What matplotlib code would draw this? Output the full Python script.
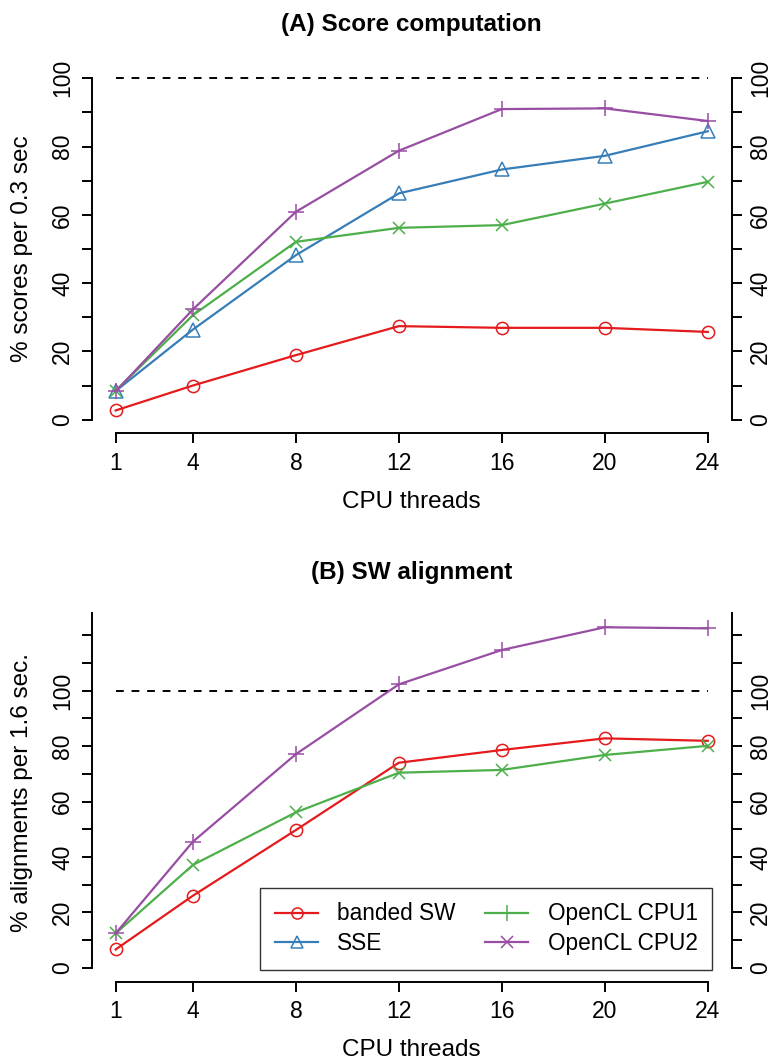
import matplotlib
matplotlib.use('Agg')
import matplotlib.pyplot as plt
from matplotlib.lines import Line2D

plt.rcParams['font.family'] = ['Liberation Sans', 'DejaVu Sans']

# CPU thread counts on the x axis
threads = [1, 4, 8, 12, 16, 20, 24]

# (A) Score computation, % scores per 0.3 sec
a_banded = [2.7, 10.0, 18.9, 27.4, 26.9, 26.9, 25.7]
a_sse = [8.4, 26.4, 48.2, 66.3, 73.3, 77.3, 84.5]
a_cpu1 = [8.5, 30.6, 52.1, 56.2, 57.0, 63.3, 69.7]
a_cpu2 = [8.3, 32.3, 60.9, 78.8, 91.0, 91.2, 87.5]

# (B) SW alignment, % alignments per 1.6 sec.
b_banded = [6.6, 26.0, 49.7, 74.0, 78.6, 82.8, 81.9]
b_cpu1 = [12.4, 37.1, 56.1, 70.4, 71.4, 76.8, 80.1]
b_cpu2 = [12.4, 45.5, 77.1, 102.3, 114.7, 122.9, 122.5]

legend_labels = ['banded SW', 'SSE', 'OpenCL CPU1', 'OpenCL CPU2']

RED, BLUE, GREEN, PURPLE = '#E41A1C', '#377EB8', '#4DAF4A', '#984EA3'
W, H = 771, 1060

fig = plt.figure(figsize=(W / 100, H / 100), dpi=100)


def style_axes(ax, yticks, ytop):
    ax.set_xlim(0.08, 24.92)
    ax.spines['top'].set_visible(False)
    for s in ['left', 'right', 'bottom']:
        ax.spines[s].set_linewidth(1.4)
    ax.spines['bottom'].set_bounds(1, 24)
    ax.spines['left'].set_bounds(0, ytop)
    ax.spines['right'].set_bounds(0, ytop)
    ax.set_xticks(threads)
    ax.set_xticklabels([str(t) for t in threads])
    ax.set_yticks(yticks)
    ax.set_yticklabels([str(v) if (v % 20 == 0 and v <= 100) else '' for v in yticks])
    ax.yaxis.set_ticks_position('both')
    ax.tick_params(axis='both', length=7.2, width=1.4, labelsize=16.5)
    ax.tick_params(axis='x', pad=6)
    ax.tick_params(axis='y', labelrotation=90, left=True, right=True,
                   labelleft=True, labelright=True, pad=5.5)
    for lab in ax.get_yticklabels():
        lab.set_va('center')
    ax.plot([1, 24], [100, 100], color='black', lw=1.4, ls=(0, (4, 4)))


def draw(ax, y, color, marker, ms):
    ax.plot(threads, y, color=color, lw=1.6, marker=marker, ms=ms,
            mfc='none', mec=color, mew=1.1)


# panel A
axA = fig.add_axes([92 / W, 1 - 433.3 / H, 639.5 / W, 368.6 / H])
axA.set_ylim(-4, 104)
style_axes(axA, list(range(0, 101, 10)), 100)
draw(axA, a_banded, RED, 'o', 8.8)
draw(axA, a_sse, BLUE, '^', 10)
draw(axA, a_cpu1, GREEN, 'x', 8.5)
draw(axA, a_cpu2, PURPLE, '+', 11)

# panel B
axB = fig.add_axes([92 / W, 1 - 981.7 / H, 639.5 / W, 377.7 / H])
axB.set_ylim(-5.05, 131.3)
style_axes(axB, list(range(0, 121, 10)), 128.2)
draw(axB, b_banded, RED, 'o', 8.8)
draw(axB, b_cpu1, GREEN, 'x', 8.5)
draw(axB, b_cpu2, PURPLE, '+', 11)

# titles and axis labels
fig.text(411.7 / W, 1 - 25 / H, '(A) Score computation', ha='center', va='center',
         fontsize=17.5, fontweight='bold')
fig.text(411.7 / W, 1 - 573 / H, '(B) SW alignment', ha='center', va='center',
         fontsize=17.5, fontweight='bold')
fig.text(22 / W, 1 - 248.5 / H, '% scores per 0.3 sec', rotation=90,
         ha='center', va='center', fontsize=17.5)
fig.text(22 / W, 1 - 793 / H, '% alignments per 1.6 sec.', rotation=90,
         ha='center', va='center', fontsize=17.5)
fig.text(411.7 / W, 1 - 508.3 / H, 'CPU threads', ha='center', va='baseline', fontsize=17.5)
fig.text(411.7 / W, 1 - 1056.5 / H, 'CPU threads', ha='center', va='baseline', fontsize=17.5)

# legend (markers as in the original legend)
handles = [
    Line2D([], [], color=RED, lw=1.6, marker='o', ms=8, mfc='none', mew=1.1),
    Line2D([], [], color=BLUE, lw=1.6, marker='^', ms=9, mfc='none', mew=1.1),
    Line2D([], [], color=GREEN, lw=1.6, marker='+', ms=11, mew=1.1),
    Line2D([], [], color=PURPLE, lw=1.6, marker='x', ms=8.5, mew=1.1),
]
leg = fig.legend(handles, legend_labels, ncol=2, loc='lower right',
                 bbox_to_anchor=(712.3 / W, 1 - 970 / H), bbox_transform=fig.transFigure,
                 borderaxespad=0, fontsize=16.3, frameon=True, fancybox=False,
                 borderpad=0.65, columnspacing=1.3, handletextpad=0.85,
                 handlelength=1.9, labelspacing=0.3)
leg.get_frame().set_edgecolor('#333333')
leg.get_frame().set_linewidth(1.0)
leg.get_frame().set_alpha(1)

fig.savefig('out.png', dpi=100)
